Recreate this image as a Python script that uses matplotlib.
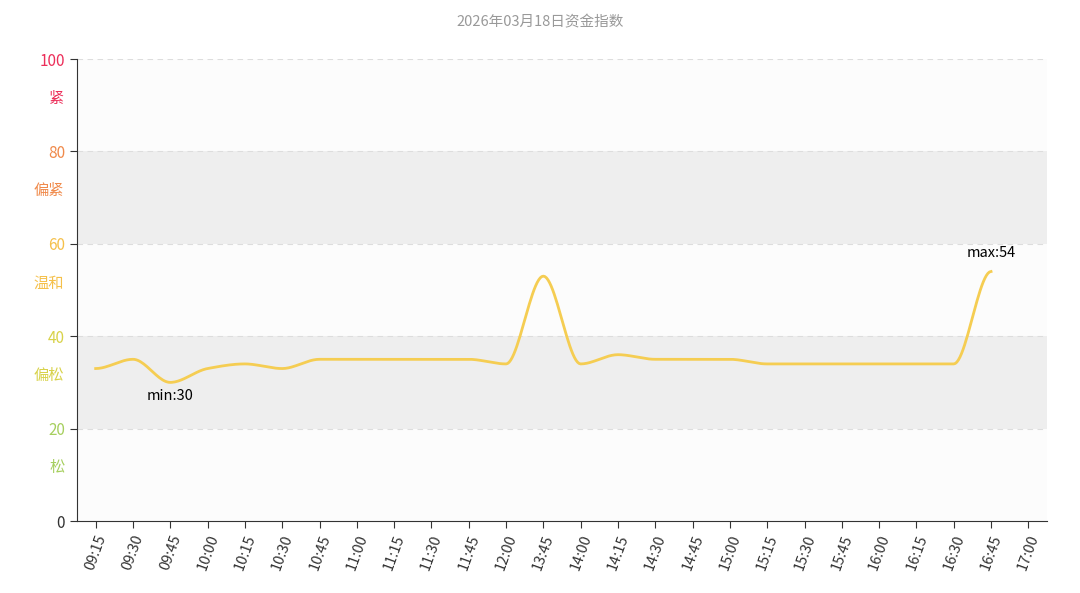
import numpy as np
import matplotlib
matplotlib.use("Agg")
import matplotlib.pyplot as plt

plt.rcParams['font.family'] = ['Noto Sans CJK SC', 'DejaVu Sans']

times = ["09:15", "09:30", "09:45", "10:00", "10:15", "10:30", "10:45", "11:00",
         "11:15", "11:30", "11:45", "12:00", "13:45", "14:00", "14:15", "14:30",
         "14:45", "15:00", "15:15", "15:30", "15:45", "16:00", "16:15", "16:30",
         "16:45", "17:00"]
values = [33, 35, 30, 33, 34, 33, 35, 35, 35, 35, 35, 34, 53, 34, 36, 35,
          35, 35, 34, 34, 34, 34, 34, 34, 54]

band_edges = [0, 20, 40, 60, 80, 100]
band_names = ["松", "偏松", "温和", "偏紧", "紧"]
band_colors = ["#a6cf5e", "#d8d24a", "#f5c04a", "#f08a4b", "#ec2f5a"]
band_fill = ["#fcfcfc", "#eeeeee", "#fcfcfc", "#eeeeee", "#fcfcfc"]
line_color = "#f5cd52"


def smooth(x, y, n=24):
    # monotone cubic curve through the data points (flat at local extrema)
    x = np.asarray(x, float); y = np.asarray(y, float)
    d = np.diff(y)
    m = np.zeros_like(y)
    for i in range(1, len(y) - 1):
        if d[i-1] * d[i] > 0:
            m[i] = 2 * d[i-1] * d[i] / (d[i-1] + d[i])
    xs, ys = [], []
    for i in range(len(x) - 1):
        t = np.linspace(0, 1, n, endpoint=False)
        h00 = 2*t**3 - 3*t**2 + 1; h10 = t**3 - 2*t**2 + t
        h01 = -2*t**3 + 3*t**2; h11 = t**3 - t**2
        xs.append(x[i] + t*(x[i+1]-x[i]))
        ys.append(h00*y[i] + h10*m[i] + h01*y[i+1] + h11*m[i+1])
    xs.append([x[-1]]); ys.append([y[-1]])
    return np.concatenate(xs), np.concatenate(ys)


fig = plt.figure(figsize=(10.8, 5.93), dpi=100)
ax = fig.add_axes([77/1080, 1-521/593, (1047-77)/1080, (521-59)/593])

for i in range(5):
    ax.axhspan(band_edges[i], band_edges[i+1], color=band_fill[i], zorder=0, lw=0)
for yv in band_edges[1:]:
    ax.axhline(yv, color="#dddddd", ls=(0, (5, 4)), lw=0.8, zorder=1)

xi = np.arange(len(values))
sx, sy = smooth(xi, values)
ax.plot(sx, sy, color=line_color, lw=2, zorder=3)

imin = int(np.argmin(values)); imax = int(np.argmax(values))
ax.text(imin, values[imin] - 1.5, f"min:{values[imin]}", ha="center", va="top", fontsize=10.5)
ax.text(imax, values[imax] + 2.5, f"max:{values[imax]}", ha="center", va="bottom", fontsize=10.5)

ax.set_xlim(-0.5, len(times) - 0.5)
ax.set_ylim(0, 100)
ax.set_xticks(np.arange(len(times)))
ax.set_xticklabels(times, rotation=70, ha="right", rotation_mode="anchor", fontsize=10.5, color="#333333")
ax.set_yticks(band_edges)
ax.set_yticklabels([str(v) for v in band_edges], fontsize=11)
for lab, c in zip(ax.get_yticklabels(), ["#333333"] + band_colors):
    lab.set_color(c)
for i, name in enumerate(band_names):
    ax.text(-0.013, (band_edges[i] + band_edges[i+1]) / 2 + 1.5, name, transform=ax.get_yaxis_transform(),
            ha="right", va="center", fontsize=11, color=band_colors[i])

for s in ["top", "right"]:
    ax.spines[s].set_visible(False)
ax.spines["left"].set_color("#333333")
ax.spines["bottom"].set_color("#333333")
ax.tick_params(axis="both", length=5, color="#333333")

fig.text(0.5, 1 - 22/593, "2026年03月18日资金指数", ha="center", va="center", fontsize=10.5, color="#999999")

fig.savefig("out.png", dpi=100)
